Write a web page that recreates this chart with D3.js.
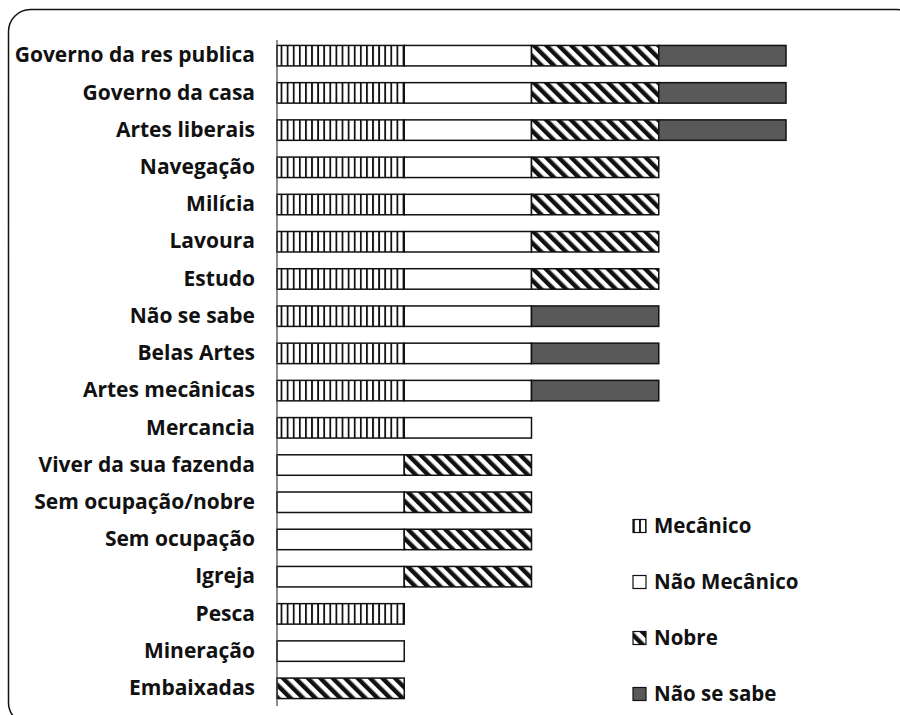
<!DOCTYPE html>
<html>
<head>
<meta charset="utf-8">
<script src="https://cdn.jsdelivr.net/npm/d3@7"></script>
<style>
  body { margin: 0; background: #fff; }
  text { font-family: "Open Sans", "Noto Sans", sans-serif; font-weight: 700; fill: #111; }
</style>
</head>
<body>
<div id="chart"></div>
<script>
// categories, top to bottom
let categories = ["Governo da res publica", "Governo da casa", "Artes liberais", "Navegação",
  "Milícia", "Lavoura", "Estudo", "Não se sabe", "Belas Artes", "Artes mecânicas", "Mercancia",
  "Viver da sua fazenda", "Sem ocupação/nobre", "Sem ocupação", "Igreja", "Pesca",
  "Mineração", "Embaixadas"];

let seriesNames = ["Mecânico", "Não Mecânico", "Nobre", "Não se sabe"];

let mecanico    = [1, 1, 1, 1, 1, 1, 1, 1, 1, 1, 1, 0, 0, 0, 0, 1, 0, 0];
let naoMecanico = [1, 1, 1, 1, 1, 1, 1, 1, 1, 1, 1, 1, 1, 1, 1, 0, 1, 0];
let nobre       = [1, 1, 1, 1, 1, 1, 1, 0, 0, 0, 0, 1, 1, 1, 1, 0, 0, 1];
let naoSeSabe   = [1, 1, 1, 0, 0, 0, 0, 1, 1, 1, 0, 0, 0, 0, 0, 0, 0, 0];

let seriesValues = [mecanico, naoMecanico, nobre, naoSeSabe];

let width = 900, height = 715;
let margin = { top: 38, left: 277, right: 114, bottom: 10 };

let table = categories.map((c, i) => {
  let row = { cat: c };
  seriesNames.forEach((s, j) => row[s] = seriesValues[j][i]);
  return row;
});

let stack = d3.stack().keys(seriesNames)(table);

let svg = d3.select("#chart").append("svg")
  .attr("width", width)
  .attr("height", height);

let defs = svg.append("defs");

// vertical stripes
let pv = defs.append("pattern").attr("id", "pVert")
  .attr("patternUnits", "userSpaceOnUse").attr("width", 6.1).attr("height", 10);
pv.append("rect").attr("width", 6.1).attr("height", 10).attr("fill", "#fff");
pv.append("rect").attr("x", 0).attr("width", 1.8).attr("height", 10).attr("fill", "#111");

// diagonal stripes (\)
let pd = defs.append("pattern").attr("id", "pDiag")
  .attr("patternUnits", "userSpaceOnUse").attr("width", 8.8).attr("height", 8.8)
  .attr("patternTransform", "rotate(-45)");
pd.append("rect").attr("width", 8.8).attr("height", 8.8).attr("fill", "#fff");
pd.append("rect").attr("width", 4.4).attr("height", 8.8).attr("fill", "#111");

let fills = ["url(#pVert)", "#fff", "url(#pDiag)", "#595959"];

// frame
svg.append("rect")
  .attr("x", 8.5).attr("y", 9.5)
  .attr("width", 910).attr("height", 715)
  .attr("rx", 22).attr("ry", 22)
  .attr("fill", "none").attr("stroke", "#111").attr("stroke-width", 1.5);

let x = d3.scaleLinear()
  .domain([0, 4])
  .range([margin.left, 786]);

let y = d3.scaleBand()
  .domain(categories)
  .range([margin.top, 706])
  .paddingInner(0.45)
  .paddingOuter(0.2);

svg.append("g")
  .selectAll("g")
  .data(stack)
  .join("g")
  .attr("fill", (d, i) => fills[i])
  .selectAll("rect")
  .data(d => d.filter(p => p[1] > p[0]))
  .join("rect")
  .attr("x", d => x(d[0]))
  .attr("y", d => y(d.data.cat))
  .attr("width", d => x(d[1]) - x(d[0]))
  .attr("height", y.bandwidth())
  .attr("stroke", "#111")
  .attr("stroke-width", 1.5);

// category axis
let yAxis = svg.append("g")
  .attr("transform", "translate(" + margin.left + ",0)")
  .call(d3.axisLeft(y).tickSize(0).tickPadding(22));
yAxis.select(".domain")
  .attr("d", "M0," + 40 + "V" + 706)
  .attr("stroke", "#444").attr("stroke-width", 1.2);
yAxis.selectAll("text")
  .style("font-size", "21px")
  .style("font-family", "'Open Sans', 'Noto Sans', sans-serif")
  .style("font-weight", 700)
  .attr("fill", "#111");

// legend
let legend = svg.append("g")
  .selectAll("g")
  .data(seriesNames)
  .join("g")
  .attr("transform", (d, i) => "translate(633," + (526 + i * 56) + ")");

legend.append("rect")
  .attr("x", 0).attr("y", -6.5)
  .attr("width", 13).attr("height", 13)
  .attr("fill", (d, i) => fills[i])
  .attr("stroke", "#111").attr("stroke-width", 1.2);

legend.append("text")
  .attr("x", 21).attr("y", 0)
  .attr("dy", "0.35em")
  .style("font-size", "20.5px")
  .text(d => d);
</script>
</body>
</html>
